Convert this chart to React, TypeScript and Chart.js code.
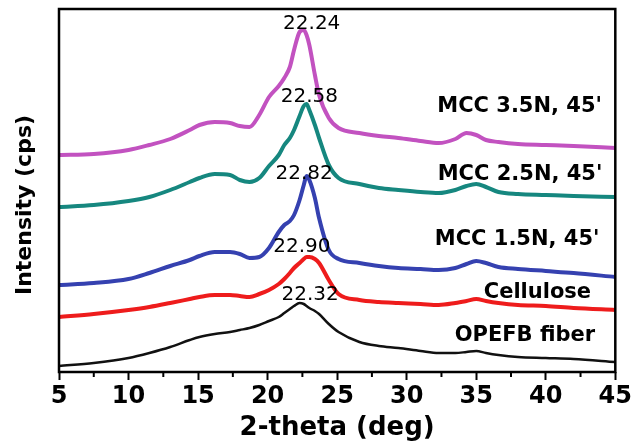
import React, { useEffect, useRef } from "react";
import { Chart, registerables } from "chart.js";

Chart.register(...registerables);

// 2-theta (deg)
const twoTheta = [5, 7.5, 10, 11.5, 13, 14.4, 15.1, 16.2, 17.3, 18, 18.7, 19.4, 20.1, 20.8, 21.2, 21.6, 21.9, 22.3, 22.6, 22.8, 23, 23.4, 23.7, 24.4, 25.1, 26.6, 28, 29.4, 31, 32.3, 33.5, 34.3, 35, 35.7, 36.6, 38, 40, 42, 45];

// Offset intensities (arbitrary units, stacked)
const opefbFiber = [6, 9, 14, 19, 25, 32, 35, 38, 40, 42, 44, 47, 51, 55, 59, 63, 66, 69, 68, 66, 64, 61, 58, 48, 40, 30, 26, 24, 21, 19, 19, 20, 21, 19, 17, 15, 14, 13, 10];
const cellulose = [55, 58, 62, 65, 69, 73, 75, 77, 77, 76, 75, 78, 82, 88, 93, 99, 104, 109, 113, 115, 115, 113, 109, 92, 78, 72, 70, 69, 68, 67, 69, 71, 73, 71, 69, 67, 66, 64, 62];
const mcc15 = [87, 89, 93, 99, 106, 112, 116, 120, 120, 118, 114, 115, 124, 140, 147, 151, 157, 172, 187, 196, 192, 174, 154, 122, 113, 109, 106, 104, 103, 102, 104, 108, 111, 109, 105, 103, 101, 99, 95];
const mcc25 = [165, 167, 171, 175, 182, 190, 194, 198, 197, 192, 190, 194, 206, 217, 227, 234, 242, 256, 266, 268, 262, 247, 234, 207, 194, 188, 184, 182, 180, 179, 182, 186, 188, 185, 180, 178, 177, 176, 175];
const mcc35 = [217, 218, 222, 227, 233, 242, 247, 250, 249, 246, 245, 257, 275, 286, 294, 305, 322, 340, 342, 337, 327, 297, 277, 254, 244, 239, 236, 234, 231, 229, 233, 239, 237, 232, 230, 228, 227, 226, 224];

const xTicks = [5, 10, 15, 20, 25, 30, 35, 40, 45];

const seriesNames = ["OPEFB fiber", "Cellulose", "MCC 1.5N, 45'", "MCC 2.5N, 45'", "MCC 3.5N, 45'"];
const peakLabels = ["22.32", "22.90", "22.82", "22.58", "22.24"];

// label anchors in data coordinates
const peakLabelX = [23.06, 22.46, 22.63, 23.0, 23.17];
const peakLabelY = [79, 127, 200, 277, 350];
const nameLabelX = [38.5, 39.4, 37.94, 38.15, 38.12];
const nameLabelY = [38.5, 81.5, 134.5, 199.5, 268];

const colors = ["#111111", "#ee1c1c", "#3541b0", "#16877f", "#c252c0"];
const FONT = "'DejaVu Sans', 'Liberation Sans', Arial, sans-serif";

export default function App() {
  const ref = useRef<HTMLCanvasElement | null>(null);
  useEffect(() => {
    if (!ref.current) return;
    const all = [opefbFiber, cellulose, mcc15, mcc25, mcc35];
    const datasets = all.map((vals, i) => ({
      label: seriesNames[i],
      data: twoTheta.map((x, j) => ({ x, y: vals[j] })),
      borderColor: colors[i],
      backgroundColor: colors[i],
      borderWidth: i === 0 ? 2.5 : 4,
      pointRadius: 0,
      cubicInterpolationMode: "monotone" as const,
      borderJoinStyle: "round" as const,
      fill: false,
    }));

    const overlay = {
      id: "overlay",
      afterDraw(chart: any) {
        const ctx = chart.ctx;
        const xs = chart.scales.x;
        const ys = chart.scales.y;
        const a = chart.chartArea;
        ctx.save();
        // frame
        ctx.strokeStyle = "#000";
        ctx.lineWidth = 2.5;
        ctx.strokeRect(a.left, a.top, a.right - a.left, a.bottom - a.top);
        // minor ticks
        ctx.lineWidth = 2;
        for (let i = 0; i < xTicks.length - 1; i++) {
          const v = (xTicks[i] + xTicks[i + 1]) / 2;
          const px = xs.getPixelForValue(v);
          ctx.beginPath();
          ctx.moveTo(px, a.bottom);
          ctx.lineTo(px, a.bottom + 5);
          ctx.stroke();
        }
        ctx.fillStyle = "#000";
        ctx.textAlign = "center";
        ctx.textBaseline = "alphabetic";
        // peak labels
        const ps = 20;
        ctx.font = `normal ${ps}px ${FONT}`;
        for (let i = 0; i < peakLabels.length; i++) {
          const px = xs.getPixelForValue(peakLabelX[i]);
          const py = ys.getPixelForValue(peakLabelY[i]);
          ctx.fillText(peakLabels[i], px, py + ps * 0.365);
        }
        // series labels
        const ns = 21;
        ctx.font = `bold ${ns}px ${FONT}`;
        for (let i = 0; i < seriesNames.length; i++) {
          const px = xs.getPixelForValue(nameLabelX[i]);
          const py = ys.getPixelForValue(nameLabelY[i]);
          ctx.fillText(seriesNames[i], px, py + ns * 0.365);
        }
        // y title
        ctx.translate(25, 205);
        ctx.rotate(-Math.PI / 2);
        ctx.textBaseline = "middle";
        ctx.font = `bold 22px ${FONT}`;
        ctx.fillText("Intensity (cps)", 0, 0);
        ctx.restore();
      },
    };

    const chart = new Chart(ref.current, {
      type: "line",
      data: { datasets },
      options: {
        animation: false,
        responsive: true,
        maintainAspectRatio: false,
        layout: { padding: { left: 59, top: 9, right: 17, bottom: 0 } },
        plugins: { legend: { display: false }, tooltip: { enabled: false } },
        scales: {
          x: {
            type: "linear",
            min: 5,
            max: 45,
            afterFit: (s: any) => {
              s.height = 73;
            },
            border: { display: false },
            grid: {
              display: true,
              drawOnChartArea: false,
              drawTicks: true,
              tickLength: 8,
              tickWidth: 2,
              tickColor: "#000",
            },
            afterBuildTicks: (s: any) => {
              s.ticks = xTicks.map((v) => ({ value: v }));
            },
            ticks: {
              color: "#000",
              padding: 2,
              maxRotation: 0,
              autoSkip: false,
              font: { family: FONT, size: 24, weight: "bold" },
            },
            title: {
              display: true,
              text: "2-theta (deg)",
              color: "#000",
              padding: { top: 0, bottom: 1 },
              font: { family: FONT, size: 26, weight: "bold" },
            },
          },
          y: {
            display: false,
            min: 0,
            max: 363,
          },
        },
      },
      plugins: [overlay],
    });
    return () => chart.destroy();
  }, []);

  return (
    <div style={{ position: "absolute", left: 0, top: 0, width: 634, height: 445, background: "#fff" }}>
      <canvas ref={ref} />
    </div>
  );
}
